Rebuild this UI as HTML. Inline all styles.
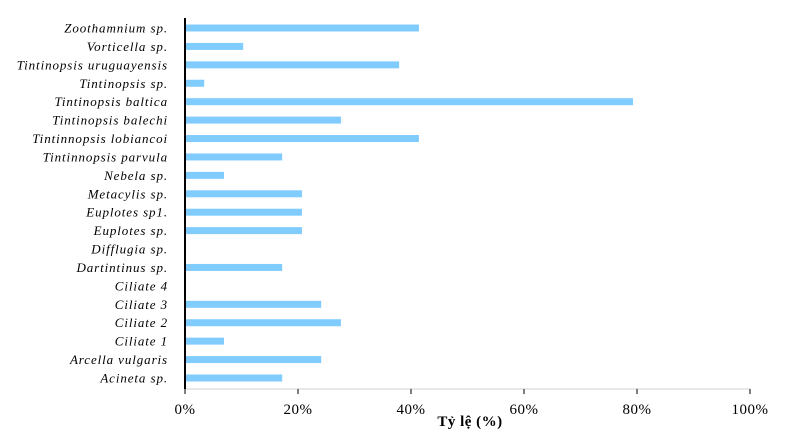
<!DOCTYPE html>
<html><head><meta charset="utf-8"><style>
body{margin:0;background:#fff;}
svg{display:block;font-family:"Liberation Serif",serif;}
</style></head><body>
<svg id="chart" width="787" height="439"></svg>
<script>
const categories=["Zoothamnium sp.","Vorticella sp.","Tintinopsis uruguayensis","Tintinopsis sp.","Tintinopsis baltica","Tintinopsis balechi","Tintinnopsis lobiancoi","Tintinnopsis parvula","Nebela sp.","Metacylis sp.","Euplotes sp1.","Euplotes sp.","Difflugia sp.","Dartintinus sp.","Ciliate 4","Ciliate 3","Ciliate 2","Ciliate 1","Arcella vulgaris","Acineta sp."];
const values=[41.4,10.3,37.9,3.4,79.3,27.6,41.4,17.2,6.9,20.7,20.7,20.7,0,17.2,0,24.1,27.6,6.9,24.1,17.2];
const tickValues=[0,20,40,60,80,100];
const tickLabels=["0%","20%","40%","60%","80%","100%"];
const NS="http://www.w3.org/2000/svg";
const svg=document.getElementById('chart');
const x0=185,x1=750,yTop=28,yStep=18.42,axisY=389;
function xs(v){return x0+(x1-x0)*v/100;}
function ys(i){return yTop+i*yStep;}
function mk(t,a){const e=document.createElementNS(NS,t);for(const k in a)e.setAttribute(k,a[k]);svg.appendChild(e);return e;}
let l=mk('line',{x1:x0,y1:axisY,x2:x1,y2:axisY,stroke:'#d0d0d0','stroke-width':1});


categories.forEach((c,i)=>{
  const y=ys(i);
  const r=mk('rect',{x:x0,y:y-3.5,width:xs(values[i])-x0,height:7,fill:'#80CCFF'});
  
  
  const t=mk('text',{x:168,y:y+4.5,'text-anchor':'end','font-size':13,'font-style':'italic','letter-spacing':0.9,fill:'#000'});
  t.textContent=c;
  
  
});
tickValues.forEach((v,i)=>{
  const tk=mk('line',{x1:xs(v),y1:axisY,x2:xs(v),y2:axisY+5,stroke:'#000','stroke-width':1});
  
  
  const t=mk('text',{x:xs(v),y:414,'text-anchor':'middle','font-size':15,'letter-spacing':0.5,fill:'#000'});
  t.textContent=tickLabels[i];
  
  
});
let ya=mk('line',{x1:x0,y1:18,x2:x0,y2:axisY,stroke:'#000','stroke-width':2});


let tt=mk('text',{x:470,y:426,'text-anchor':'middle','font-size':15,'font-weight':'bold','letter-spacing':0.5,fill:'#000'});
tt.textContent="Tỷ lệ (%)";


</script>
</body></html>
